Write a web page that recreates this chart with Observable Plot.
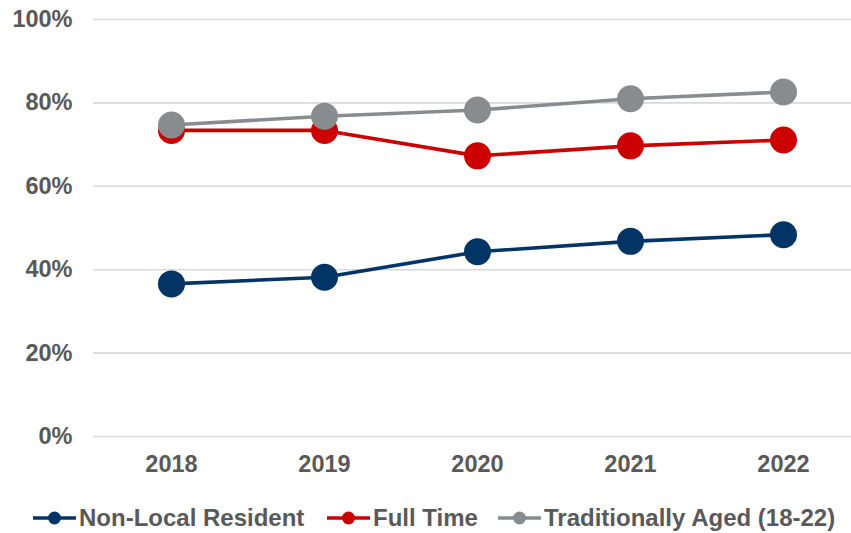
<!DOCTYPE html>
<html>
<head>
<meta charset="utf-8">
<script src="https://cdn.jsdelivr.net/npm/d3@7"></script>
<script src="https://cdn.jsdelivr.net/npm/@observablehq/plot@0.6"></script>
<style>
  html, body { margin: 0; padding: 0; background: #fff; }
  body { width: 851px; height: 533px; position: relative; overflow: hidden;
         font-family: "Liberation Sans", Arial, sans-serif; }
  #legend { position: absolute; left: 0; top: 490px; width: 851px; height: 43px; }
  .item { position: absolute; top: 16px; height: 24px; display: flex; align-items: center;
          font-weight: bold; font-size: 24px; color: #595959; white-space: nowrap; }
  .item svg { margin-right: 3px; }
</style>
</head>
<body>
<div id="chart"></div>
<div id="legend"></div>
<script>
const years = ["2018", "2019", "2020", "2021", "2022"];
const seriesNames = ["Non-Local Resident", "Full Time", "Traditionally Aged (18-22)"];
const seriesColors = ["#023466", "#cc0000", "#898c8f"];
const nonLocalResident = [0.366, 0.382, 0.443, 0.468, 0.484];
const fullTime = [0.734, 0.734, 0.673, 0.697, 0.711];
const traditionallyAged = [0.747, 0.768, 0.783, 0.810, 0.826];
const yTicks = [0, 0.2, 0.4, 0.6, 0.8, 1.0];

const seriesValues = [nonLocalResident, fullTime, traditionallyAged];
const data = [];
seriesNames.forEach((name, i) => {
  years.forEach((yr, j) => data.push({series: name, year: yr, value: seriesValues[i][j]}));
});

const plot = Plot.plot({
  width: 851,
  height: 490,
  marginLeft: 93,
  marginRight: 0,
  marginTop: 19,
  marginBottom: 54,
  style: {fontFamily: '"Liberation Sans", Arial, sans-serif', fontSize: "23px", fontWeight: "bold", color: "#595959", background: "#fff"},
  x: {type: "point", domain: years, range: [170, 784], padding: 0, label: null},
  y: {domain: [0, 1], label: null},
  color: {domain: seriesNames, range: seriesColors},
  marks: [
    Plot.ruleY(yTicks, {stroke: "#d9d9d9", strokeWidth: 1.6}),
    Plot.axisY({ticks: yTicks, tickFormat: d => Math.round(d * 100) + "%", tickSize: 0, tickPadding: 21, label: null, fill: "#595959", fontSize: 23.5, fontWeight: "bold"}),
    Plot.axisX({tickSize: 0, tickPadding: 19, label: null, fill: "#595959", fontSize: 23.5, fontWeight: "bold"}),
    Plot.line(data, {x: "year", y: "value", z: "series", stroke: "series", strokeWidth: 3.6}),
    Plot.dot(data, {x: "year", y: "value", fill: "series", r: 13.5, stroke: "none"})
  ]
});
document.getElementById("chart").appendChild(plot);

const legend = document.getElementById("legend");
const lefts = [33, 327, 498];
seriesNames.forEach((name, i) => {
  const div = document.createElement("div");
  div.className = "item";
  div.style.left = lefts[i] + "px";
  div.innerHTML = `<svg width="43" height="14"><line x1="0" x2="43" y1="7" y2="7" stroke="${seriesColors[i]}" stroke-width="3.6"/><circle cx="21.5" cy="7" r="6.5" fill="${seriesColors[i]}"/></svg><span>${name}</span>`;
  legend.appendChild(div);
});
</script>
</body>
</html>
